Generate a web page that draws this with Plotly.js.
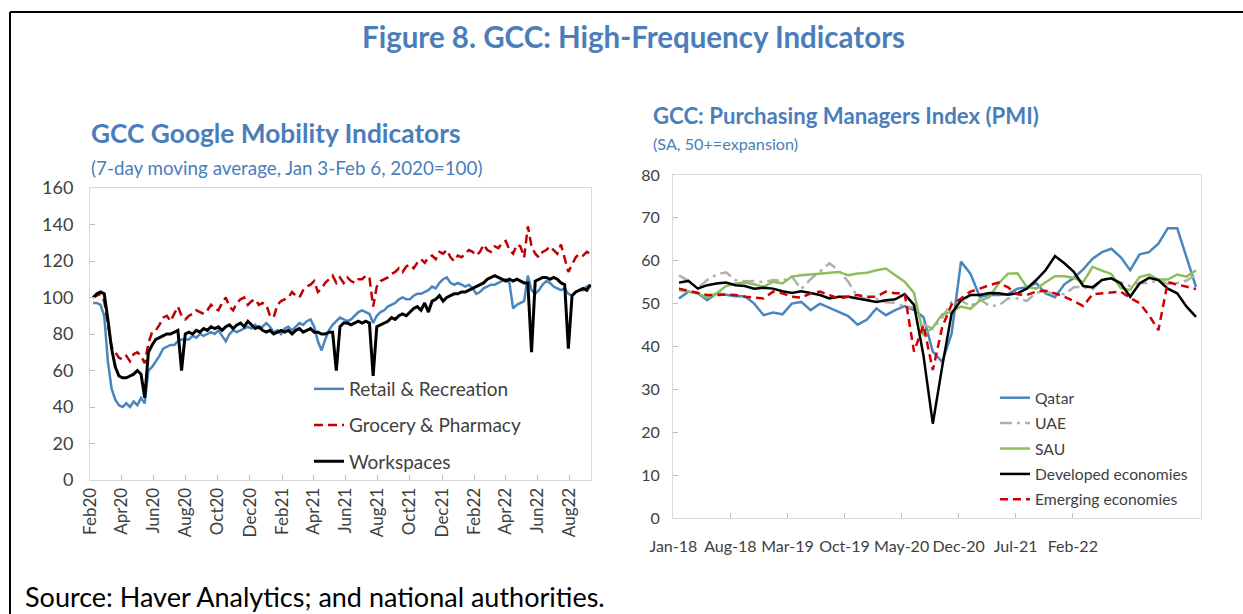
<!DOCTYPE html>
<html>
<head>
<meta charset="utf-8">
<script src="https://cdn.plot.ly/plotly-3.0.1.min.js"></script>
<style>
  html, body { margin: 0; padding: 0; background: #ffffff; }
  #chart { width: 1243px; height: 614px; }
</style>
</head>
<body>
<div id="chart"></div>
<script>
// ---------------- Mobility (weekly, 7-day moving average) ----------------
const mobilityStart = '2020-02-07';           // first weekly observation
const mobilityStepDays = 7;                   // weekly observations
const retailRecreation = [
  97, 97, 96, 90, 65, 50, 44, 41, 40, 42, 40, 43, 41, 45, 42, 60, 62, 65, 68, 72,
  73, 74, 74, 76, 77, 77, 77, 79, 78, 80, 79, 80, 81, 80, 82, 79, 76, 80, 82, 81,
  82, 83, 84, 83, 85, 83, 84, 86, 84, 81, 82, 80, 83, 84, 82, 84, 86, 85, 87, 88,
  84, 76, 71, 77, 82, 85, 87, 89, 88, 87, 88, 90, 92, 93, 92, 91, 86, 90, 92, 93,
  95, 96, 97, 99, 100, 99, 99, 101, 102, 102, 103, 104, 106, 105, 108, 110, 111, 108, 107, 108,
  107, 106, 107, 105, 102, 103, 105, 106, 107, 107, 108, 109, 110, 108, 94, 96, 97, 98, 112, 104,
  102, 104, 107, 109, 108, 106, 105, 104, 105, 102, 101, 103, 104, 104, 106, 107
];
const groceryPharmacy = [
  100, 101, 102, 98, 85, 73, 70, 67, 66, 68, 65, 69, 70, 68, 64, 75, 81, 82, 85, 89,
  90, 87, 91, 95, 90, 88, 90, 91, 93, 92, 91, 93, 96, 94, 93, 97, 100, 95, 93, 97,
  99, 100, 96, 98, 99, 96, 97, 96, 90, 89, 96, 98, 99, 100, 103, 101, 100, 104, 106, 107,
  109, 103, 105, 108, 110, 112, 108, 111, 108, 111, 109, 108, 110, 110, 112, 111, 95, 106, 109, 110,
  111, 113, 114, 116, 114, 117, 118, 116, 119, 121, 119, 122, 123, 121, 125, 124, 126, 122, 120, 123,
  122, 124, 126, 125, 123, 125, 129, 126, 125, 128, 127, 130, 131, 126, 124, 129, 128, 122, 139, 128,
  124, 122, 125, 126, 128, 126, 124, 129, 122, 114, 118, 122, 124, 123, 125, 124
];
const workspaces = [
  100, 102, 103, 102, 88, 72, 62, 57, 56, 56, 57, 58, 60, 58, 45, 70, 74, 77, 78, 79,
  80, 80, 81, 82, 60, 80, 81, 80, 82, 81, 83, 82, 84, 83, 84, 82, 84, 85, 83, 85,
  86, 84, 87, 85, 83, 84, 82, 81, 82, 80, 81, 82, 81, 82, 80, 82, 83, 81, 82, 83,
  81, 81, 80, 80, 81, 81, 60, 84, 86, 86, 85, 86, 87, 86, 87, 86, 57, 84, 85, 86,
  87, 89, 88, 90, 91, 90, 92, 94, 95, 93, 97, 92, 98, 99, 101, 98, 100, 101, 102, 102,
  103, 103, 104, 105, 106, 107, 108, 110, 111, 112, 111, 110, 109, 110, 109, 110, 109, 108, 108, 70,
  109, 110, 111, 111, 110, 111, 110, 108, 107, 72, 101, 103, 104, 105, 104, 107
];
const mobilityNames = ['Retail & Recreation', 'Grocery & Pharmacy', 'Workspaces'];

// ---------------- PMI (monthly, Jan-2018 .. Aug-2022) ----------------
const pmiTickLabels = ['Jan-18', 'Aug-18', 'Mar-19', 'Oct-19', 'May-20', 'Dec-20', 'Jul-21', 'Feb-22'];
const pmiQatar = [
  51.2, 52.8, 52.4, 50.8, 52.4, 52.0, 51.7, 51.7, 50.0, 47.3, 47.9, 47.5, 50.0, 50.4, 48.5, 50.0,
  49.0, 48.1, 47.1, 45.1, 46.3, 48.9, 47.3, 48.5, 49.4, 48.5, 46.9, 38.8, 36.4, 43.0, 59.8, 57.0,
  51.6, 52.0, 52.0, 52.2, 53.5, 53.8, 54.8, 52.4, 51.5, 54.5, 56.0, 58.0, 60.5, 62.0, 62.8, 60.8,
  57.8, 61.5, 62.0, 64.0, 67.6, 67.6, 60.8, 53.9
];
const pmiUAE = [
  56.6, 55.3, 53.6, 55.5, 56.8, 57.3, 55.5, 55.2, 55.3, 55.0, 55.5, 55.3, 56.3, 53.4, 55.7, 57.6,
  59.4, 57.7, 55.1, 51.6, 51.1, 51.1, 50.3, 50.2, 49.3, 49.1, 45.2, 44.1, 46.7, 50.4, 50.8, 49.4,
  51.0, 49.5, 49.5, 51.2, 51.2, 50.6, 52.6, 52.7, 52.3, 52.2, 53.8, 53.9, 53.3, 55.7, 55.9, 54.9,
  54.1, 54.8, 54.8, 55.5, 54.6, 54.8, 55.4, 56.7
];
const pmiSAU = [
  53.1, 52.8, 52.4, 51.4, 52.4, 54.1, 54.7, 54.9, 54.5, 53.9, 55.1, 54.7, 56.3, 56.6, 56.8, 57.0,
  57.3, 57.4, 56.6, 57.0, 57.2, 57.8, 58.2, 56.6, 55.1, 52.5, 42.8, 44.4, 47.5, 48.1, 49.3, 48.8,
  50.7, 51.5, 54.7, 57.0, 57.1, 53.9, 53.5, 55.0, 56.4, 56.4, 56.0, 55.0, 58.6, 57.7, 56.9, 53.6,
  53.2, 56.2, 56.8, 55.6, 55.6, 56.8, 56.3, 57.8
];
const pmiDeveloped = [
  54.9, 55.3, 53.5, 54.3, 54.7, 54.9, 54.3, 54.1, 53.5, 53.7, 53.5, 52.9, 52.5, 52.9, 52.5, 52.0,
  51.2, 51.6, 51.6, 51.2, 50.8, 50.4, 50.8, 51.0, 52.2, 49.7, 38.0, 22.0, 35.3, 47.7, 50.8, 52.0,
  52.0, 52.5, 52.4, 52.1, 52.4, 53.5, 55.5, 57.8, 61.1, 59.4, 57.4, 54.1, 53.8, 55.5, 55.9, 54.7,
  51.6, 54.7, 56.0, 55.5, 53.5, 52.4, 49.3, 46.9
];
const pmiEmerging = [
  53.5, 53.0, 52.4, 52.0, 52.0, 52.1, 52.0, 51.6, 51.4, 51.2, 52.8, 52.4, 51.6, 51.4, 52.4, 52.8,
  52.0, 51.2, 51.6, 52.0, 51.6, 51.6, 52.8, 52.4, 52.4, 38.8, 45.0, 34.5, 44.5, 49.8, 51.2, 52.8,
  53.5, 54.3, 54.9, 53.8, 52.2, 52.0, 52.8, 53.0, 52.4, 51.6, 50.6, 49.4, 52.2, 52.4, 52.6, 52.8,
  51.3, 50.1, 47.3, 43.8, 55.0, 54.5, 54.0, 53.4
];
const pmiNames = ['Qatar', 'UAE', 'SAU', 'Developed economies', 'Emerging economies'];

// ---------------- Styling ----------------
const W = 1243, H = 614;
const FONT = 'Lato, "Open Sans", sans-serif';
const TITLE_BLUE = '#4A7EBB';
const TXT = '#404040';
const AXIS_GRAY = '#D9D9D9';
const px = v => v / W;
const py = v => 1 - v / H;

const DAY_MS = 86400000;
const mob = (y, name, color, dash, width, legendgroup) => ({
  type: 'scatter', mode: 'lines', x0: mobilityStart, dx: mobilityStepDays * DAY_MS,
  y, name, xaxis: 'x', yaxis: 'y', legend: 'legend', legendgroup,
  line: { color, width, dash }, hoverinfo: 'skip'
});
const pmi = (y, name, color, dash, width, legendgroup) => ({
  type: 'scatter', mode: 'lines', x0: 0, dx: 1,
  y, name, xaxis: 'x2', yaxis: 'y2', legend: 'legend2', legendgroup,
  line: { color, width, dash }, hoverinfo: 'skip'
});

const traces = [
  mob(retailRecreation, mobilityNames[0], '#4A86BE', 'solid', 2.5, 'a'),
  mob(groceryPharmacy, mobilityNames[1], '#C00000', '9px,5px', 2.5, 'b'),
  mob(workspaces, mobilityNames[2], '#000000', 'solid', 3, 'c'),
  pmi(pmiQatar, pmiNames[0], '#4A86BE', 'solid', 2.5, 'q'),
  pmi(pmiUAE, pmiNames[1], '#B0B0B0', '12px,5px,3px,5px', 2.5, 'u'),
  pmi(pmiSAU, pmiNames[2], '#8CBF5C', 'solid', 2.5, 's'),
  pmi(pmiDeveloped, pmiNames[3], '#000000', 'solid', 2.5, 'd'),
  pmi(pmiEmerging, pmiNames[4], '#D00000', '8px,5px', 2.5, 'e')
];

const pmiTickStep = 6.07, pmiTickStart = -0.6;
const pmiTickVals = pmiTickLabels.map((_, k) => pmiTickStart + pmiTickStep * k);

const ann = (text, x, y, size, bold, color, xanchor) => ({
  text: bold ? '<b>' + text + '</b>' : text, xref: 'paper', yref: 'paper',
  x: px(x), y: py(y), xanchor: xanchor || 'left', yanchor: 'middle', showarrow: false,
  font: { family: FONT, size, color }
});

const layout = {
  width: W, height: H,
  margin: { l: 0, r: 0, t: 0, b: 0 },
  paper_bgcolor: '#ffffff', plot_bgcolor: '#ffffff',
  font: { family: FONT, color: TXT },
  showlegend: true,
  xaxis: {
    type: 'date', domain: [px(90), px(591)], anchor: 'y',
    range: ['2020-02-01', '2022-09-10'],
    tick0: '2020-02-01', dtick: 'M2', tickformat: '%b%y', tickangle: -90,
    ticks: 'inside', ticklen: 5, tickcolor: '#BFBFBF',
    showgrid: false, zeroline: false, showline: true, linecolor: AXIS_GRAY, linewidth: 1, mirror: true,
    tickfont: { family: FONT, size: 17, color: TXT }
  },
  yaxis: {
    domain: [py(480), py(188)], anchor: 'x', range: [0, 160], dtick: 20,
    ticks: 'inside', ticklen: 5, tickcolor: '#BFBFBF',
    showgrid: false, zeroline: false, showline: true, linecolor: AXIS_GRAY, linewidth: 1, mirror: true,
    tickfont: { family: FONT, size: 18, color: TXT }, ticklabelstandoff: 12
  },
  xaxis2: {
    domain: [px(672.9), px(1200.7)], anchor: 'y2', range: [-0.65, 55.5],
    tickvals: pmiTickVals, ticktext: pmiTickLabels, tickangle: 0,
    ticks: 'inside', ticklen: 5, tickcolor: '#BFBFBF',
    showgrid: false, zeroline: false, showline: true, linecolor: AXIS_GRAY, linewidth: 1, mirror: true,
    tickfont: { family: FONT, size: 16, color: TXT }, ticklabelstandoff: 14
  },
  yaxis2: {
    domain: [py(518), py(175)], anchor: 'x2', range: [0, 80], dtick: 10,
    ticks: 'inside', ticklen: 5, tickcolor: '#BFBFBF',
    showgrid: false, zeroline: false, showline: true, linecolor: AXIS_GRAY, linewidth: 1, mirror: true,
    tickfont: { family: FONT, size: 16, color: TXT }, ticklabelstandoff: 9
  },
  legend: {
    x: px(309), y: py(370), xanchor: 'left', yanchor: 'top',
    bgcolor: 'rgba(0,0,0,0)', tracegroupgap: 8.5, itemwidth: 30,
    font: { family: FONT, size: 19, color: TXT }
  },
  legend2: {
    x: px(995), y: py(381), xanchor: 'left', yanchor: 'top',
    bgcolor: 'rgba(0,0,0,0)', tracegroupgap: 2, itemwidth: 30,
    font: { family: FONT, size: 15.7, color: TXT }
  },
  annotations: [
    ann('Figure 8. GCC: High-Frequency Indicators', 633, 36, 29.5, true, TITLE_BLUE, 'center'),
    ann('GCC Google Mobility Indicators', 89, 133, 26.3, true, TITLE_BLUE),
    ann('(7-day moving average, Jan 3-Feb 6, 2020=100)', 89, 167, 18.8, false, TITLE_BLUE),
    ann('GCC: Purchasing Managers Index (PMI)', 651, 116, 22.2, true, TITLE_BLUE),
    ann('(SA, 50+=expansion)', 651, 143, 16.2, false, TITLE_BLUE),
    ann('Source: Haver Analytics; and national authorities.', 23, 596, 27, false, '#000000')
  ],
  shapes: [
    { type: 'line', xref: 'paper', yref: 'paper', x0: px(10), x1: 1, y0: py(12), y1: py(12), line: { color: '#000', width: 2 } },
    { type: 'line', xref: 'paper', yref: 'paper', x0: px(10), x1: px(10), y0: py(12), y1: 0, line: { color: '#000', width: 2 } }
  ]
};

Plotly.newPlot('chart', traces, layout, { staticPlot: true, displayModeBar: false });
</script>
</body>
</html>
